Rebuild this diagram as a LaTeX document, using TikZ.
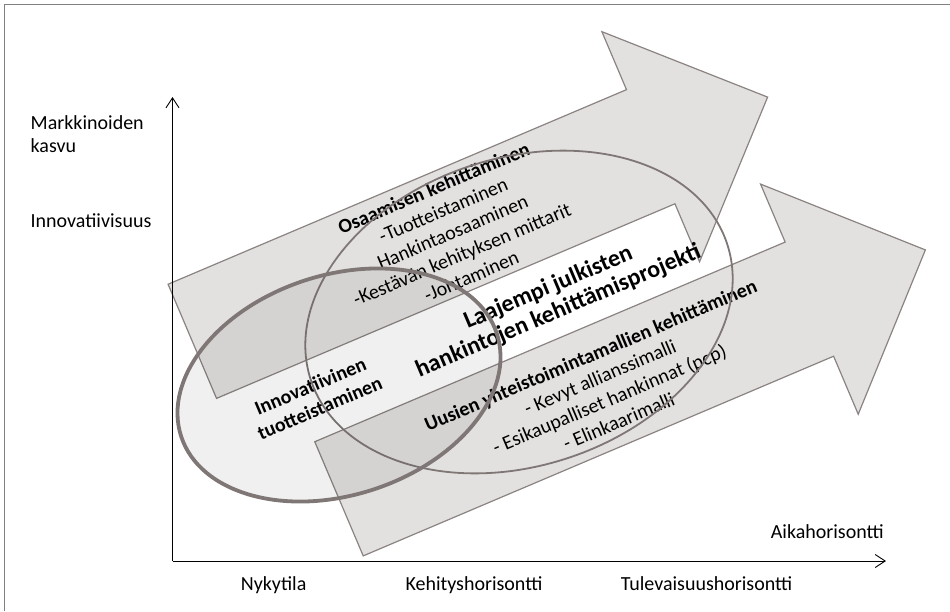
\documentclass[tikz,border=0pt]{standalone}
\usepackage{fontspec}
\setmainfont{Carlito}
\usetikzlibrary{arrows.meta}
\definecolor{arrowfill}{HTML}{E3E1E0}
\definecolor{arrowline}{HTML}{8A8382}
\definecolor{ringline}{HTML}{7F7776}
\definecolor{framegray}{HTML}{808080}
\begin{document}
\begin{tikzpicture}[x=1pt,y=-1pt,
  flow/.style={fill=arrowfill, draw=arrowline, line width=1.2pt, line join=miter},
  axisline/.style={line width=0.9pt, -{Straight Barb[length=10pt,width=13pt]}},
  lbl/.style={font=\fontsize{20}{24}\selectfont, inner sep=0pt},
  tilted/.style={rotate=23, align=center, inner sep=0pt, font=\fontsize{20}{24}\selectfont},
  ring/.style={draw=ringline},
]
\useasboundingbox (0,0) rectangle (950,611);
% outer frame (left and top edges)
\draw[framegray, line width=1.5pt] (4.5,611) -- (4.5,4.5) -- (950,4.5);

% upper development arrow
\begin{scope}[shift={(192.3,341.3)}, rotate=23]
  \filldraw[flow] (0,-62) -- (498,-62) -- (498,-125) -- (625,0) -- (498,125) -- (498,62) -- (0,62) -- cycle;
\end{scope}
% lower development arrow
\begin{scope}[shift={(339,498.8)}, rotate=23]
  \filldraw[flow] (0,-62) -- (511,-62) -- (511,-125) -- (637,0) -- (511,125) -- (511,62) -- (0,62) -- cycle;
\end{scope}

% axes
\coordinate (O) at (172.5,561);
\coordinate (ytop) at (172.5,97);
\coordinate (xend) at (886,561);
\draw[axisline] (O) -- (ytop);
\draw[axisline] (O) -- (xend);

% axis labels
\node[lbl, anchor=base west] (mk1) at (30.5,129.3) {Markkinoiden};
\node[lbl, anchor=base west] (mk2) at (30.5,152.7) {kasvu};
\node[lbl, anchor=base west] (innv) at (30.5,227.3) {Innovatiivisuus};
\node[lbl, anchor=base east] (aika) at (884,538) {Aikahorisontti};
\node[lbl, anchor=base] (nyk) at (273.6,590) {Nykytila};
\node[lbl, anchor=base] (keh) at (474,590) {Kehityshorisontti};
\node[lbl, anchor=base] (tul) at (706.6,590) {Tulevaisuushorisontti};

% texts along the arrows
\node[tilted] (osa) at (452.5,232) {\textbf{Osaamisen kehittäminen}\\-Tuotteistaminen\\Hankintaosaaminen\\-Kestävän kehityksen mittarit\\-Johtaminen};
\node[tilted, font=\fontsize{24}{25.5}\selectfont\bfseries] (laaj) at (553.4,299.6) {Laajempi julkisten\\hankintojen kehittämisprojekti};
\node[tilted, font=\fontsize{20}{24}\selectfont\bfseries] (innov) at (315,397) {Innovatiivinen\\tuotteistaminen};
\node[tilted] (uusi) at (604.6,388.1) {\textbf{Uusien yhteistoimintamallien kehittäminen}\\- Kevyt allianssimalli\\- Esikaupalliset hankinnat (pcp)\\- Elinkaarimalli};

% overlapping focus areas
\draw[ring, line width=1.8pt, rotate around={18:(519,312)}] (519,312) ellipse [x radius=219, y radius=154];
\draw[ring, line width=3.8pt, fill=black, fill opacity=0.06, rotate around={18:(339,385)}] (339,385) ellipse [x radius=166, y radius=110];
\end{tikzpicture}
\end{document}
